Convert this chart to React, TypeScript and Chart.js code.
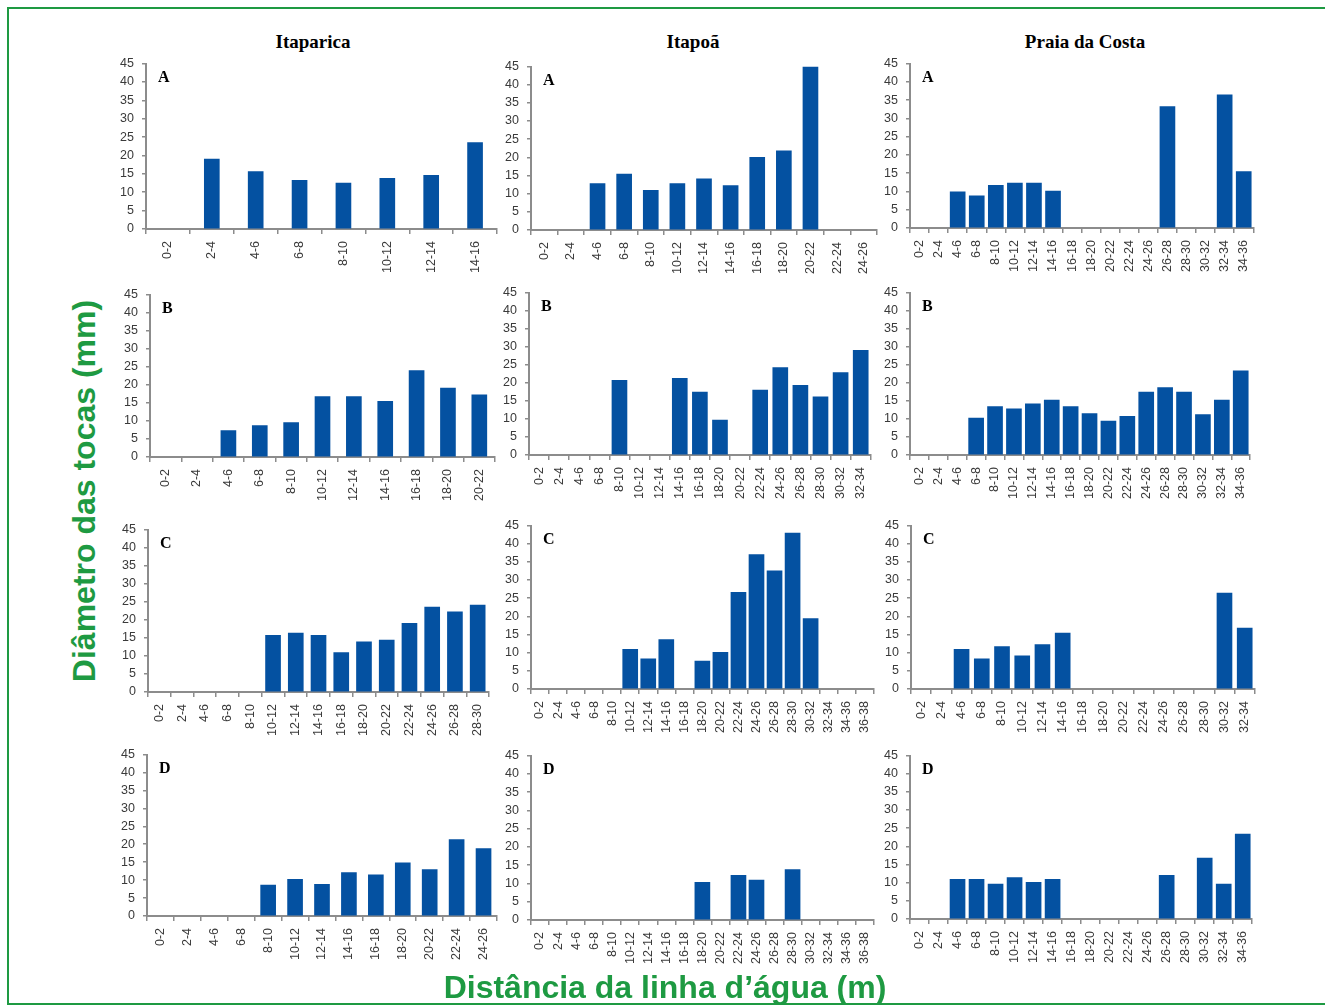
import React, { useEffect, useRef } from 'react';
import { Chart, registerables } from 'chart.js';

Chart.register(...registerables);

// Distance classes from the water line (m)
const DIST_CLASSES = [
  '0-2', '2-4', '4-6', '6-8', '8-10', '10-12', '12-14', '14-16', '16-18', '18-20',
  '20-22', '22-24', '24-26', '26-28', '28-30', '30-32', '32-34', '34-36', '36-38',
];

// Burrow diameter (mm) per distance class — Itaparica
const itaparicaA = [null, 19.0, 15.6, 13.2, 12.5, 13.8, 14.6, 23.5];
const itaparicaB = [null, null, 7.3, 8.7, 9.5, 16.7, 16.7, 15.4, 23.9, 19.1, 17.2];
const itaparicaC = [null, null, null, null, null, 15.7, 16.3, 15.7, 10.9, 13.9, 14.4, 19.0, 23.5, 22.2, 24.1];
const itaparicaD = [null, null, null, null, 8.6, 10.2, 8.8, 12.1, 11.5, 14.8, 12.9, 21.3, 18.8];

// Itapoã
const itapoaA = [null, null, 12.8, 15.4, 10.9, 12.8, 14.1, 12.2, 20.0, 21.8, 44.9, null, null];
const itapoaB = [null, null, null, null, 20.7, null, null, 21.2, 17.4, 9.7, null, 18.0, 24.2, 19.3, 16.1, 22.8, 29.0];
const itapoaC = [null, null, null, null, null, 10.9, 8.3, 13.6, null, 7.7, 10.1, 26.6, 37.0, 32.5, 42.9, 19.4, null, null, null];
const itapoaD = [null, null, null, null, null, null, null, null, null, 10.3, null, 12.2, 10.9, null, 13.8, null, null, null, null];

// Praia da Costa
const praiaA = [null, null, 9.9, 8.8, 11.7, 12.3, 12.3, 10.1, null, null, null, null, null, 33.2, null, null, 36.4, 15.4];
const praiaB = [null, null, null, 10.2, 13.4, 12.8, 14.2, 15.2, 13.4, 11.5, 9.4, 10.7, 17.4, 18.7, 17.4, 11.2, 15.2, 23.3];
const praiaC = [null, null, 10.9, 8.3, 11.7, 9.1, 12.2, 15.4, null, null, null, null, null, null, null, 26.4, 16.8];
const praiaD = [null, null, 10.9, 10.9, 9.6, 11.4, 10.1, 10.9, null, null, null, null, null, 12.0, null, 16.8, 9.6, 23.4];

const Y_TICK_MAX = 45;
const Y_TICK_STEP = 5;

const COLUMN_TITLES = ['Itaparica', 'Itapoã', 'Praia da Costa'];
const Y_TITLE = 'Diâmetro das tocas (mm)';
const X_TITLE = 'Distância da linha d’água (m)';

const BAR_COLOR = '#0451A1';
const AXIS_COLOR = '#8C8C8C';
const TICK_COLOR = '#3A3A3A';
const GREEN = '#1E9A42';

// Placement of each panel: y-axis x, pixel rows of 45 and 0, right end of x-axis
type PanelSpec = {
  letter: string;
  values: (number | null)[];
  axisX: number;
  yTop: number;
  yZero: number;
  right: number;
};

const PANELS: PanelSpec[] = [
  { letter: 'A', values: itaparicaA, axisX: 146, yTop: 58, yZero: 229, right: 497 },
  { letter: 'A', values: itapoaA, axisX: 531, yTop: 61, yZero: 230, right: 877 },
  { letter: 'A', values: praiaA, axisX: 910, yTop: 58, yZero: 228, right: 1256 },
  { letter: 'B', values: itaparicaB, axisX: 150, yTop: 289, yZero: 457, right: 495 },
  { letter: 'B', values: itapoaB, axisX: 529, yTop: 287, yZero: 455, right: 873 },
  { letter: 'B', values: praiaB, axisX: 910, yTop: 287, yZero: 455, right: 1253 },
  { letter: 'C', values: itaparicaC, axisX: 148, yTop: 524, yZero: 692, right: 490 },
  { letter: 'C', values: itapoaC, axisX: 531, yTop: 520, yZero: 689, right: 877 },
  { letter: 'C', values: praiaC, axisX: 911, yTop: 520, yZero: 689, right: 1257 },
  { letter: 'D', values: itaparicaD, axisX: 147, yTop: 749, yZero: 916, right: 497 },
  { letter: 'D', values: itapoaD, axisX: 531, yTop: 750, yZero: 920, right: 877 },
  { letter: 'D', values: praiaD, axisX: 910, yTop: 750, yZero: 919, right: 1255 },
];

const Y_AXIS_W = 45;
const X_AXIS_H = 48;
const PAD_TOP = 10;
const PAD_RIGHT = 10;

const Y_TICK_FONT = { family: '"Liberation Sans", Arial, sans-serif', size: 12.5 };
const X_TICK_FONT = { family: '"Liberation Sans", Arial, sans-serif', size: 12.5 };

function Panel({ spec }: { spec: PanelSpec }) {
  const ref = useRef<HTMLCanvasElement | null>(null);
  const width = Y_AXIS_W + (spec.right - spec.axisX) + PAD_RIGHT;
  const height = PAD_TOP + (spec.yZero - spec.yTop) + X_AXIS_H;

  useEffect(() => {
    if (!ref.current) return;
    const labels = DIST_CLASSES.slice(0, spec.values.length);
    const letterPlugin = {
      id: 'panelLetter',
      afterDraw(chart: any) {
        const { ctx, chartArea } = chart;
        ctx.save();
        ctx.font = 'bold 16px "Liberation Serif", "Times New Roman", serif';
        ctx.fillStyle = '#000';
        ctx.textBaseline = 'middle';
        ctx.textAlign = 'left';
        ctx.fillText(spec.letter, chartArea.left + 12, chartArea.top + 14);
        ctx.restore();
      },
    };
    const chart = new Chart(ref.current, {
      type: 'bar',
      data: {
        labels,
        datasets: [
          {
            data: spec.values,
            backgroundColor: BAR_COLOR,
            borderWidth: 0,
            barThickness: 15,
          },
        ],
      },
      options: {
        responsive: false,
        animation: false,
        events: [],
        layout: { padding: { top: PAD_TOP, right: PAD_RIGHT, left: 0, bottom: 0 } },
        plugins: {
          legend: { display: false },
          tooltip: { enabled: false },
          title: { display: false },
        },
        scales: {
          x: {
            offset: true,
            afterFit(scale: any) {
              scale.height = X_AXIS_H;
            },
            border: { display: true, color: AXIS_COLOR, width: 2 },
            grid: {
              display: true,
              offset: true,
              drawOnChartArea: false,
              drawTicks: true,
              tickLength: 5,
              color: AXIS_COLOR,
              lineWidth: 1.5,
            },
            ticks: {
              autoSkip: false,
              minRotation: 90,
              maxRotation: 90,
              padding: 7,
              color: TICK_COLOR,
              font: X_TICK_FONT,
            },
          },
          y: {
            min: 0,
            max: Y_TICK_MAX,
            afterFit(scale: any) {
              scale.width = Y_AXIS_W;
            },
            border: { display: true, color: AXIS_COLOR, width: 2 },
            grid: {
              display: true,
              drawOnChartArea: false,
              drawTicks: true,
              tickLength: 4,
              color: AXIS_COLOR,
              lineWidth: 1.5,
            },
            ticks: {
              stepSize: Y_TICK_STEP,
              autoSkip: false,
              padding: 8,
              color: TICK_COLOR,
              font: Y_TICK_FONT,
            },
          },
        },
      },
      plugins: [letterPlugin],
    });
    return () => chart.destroy();
  }, [spec]);

  return (
    <canvas
      ref={ref}
      width={width}
      height={height}
      style={{
        position: 'absolute',
        left: spec.axisX - Y_AXIS_W,
        top: spec.yTop - PAD_TOP,
        width,
        height,
      }}
    />
  );
}

const TITLE_CENTERS = [313, 693, 1085];

export default function App() {
  return (
    <div
      style={{
        position: 'absolute',
        left: 0,
        top: 0,
        width: 1325,
        height: 1005,
        background: '#fff',
        overflow: 'hidden',
      }}
    >
      <div
        style={{
          position: 'absolute',
          left: 7,
          top: 7,
          width: 1340,
          height: 994,
          border: `2px solid ${GREEN}`,
        }}
      />
      {COLUMN_TITLES.map((t, i) => (
        <div
          key={t}
          style={{
            position: 'absolute',
            left: TITLE_CENTERS[i],
            top: 42,
            transform: 'translate(-50%, -50%)',
            font: 'bold 19px "Liberation Serif", "Times New Roman", serif',
            color: '#000',
            whiteSpace: 'nowrap',
          }}
        >
          {t}
        </div>
      ))}
      {PANELS.map((p, i) => (
        <Panel key={i} spec={p} />
      ))}
      <div
        style={{
          position: 'absolute',
          left: 84,
          top: 491,
          transform: 'translate(-50%, -50%) rotate(-90deg)',
          font: 'bold 32px "Liberation Sans", Arial, sans-serif',
          color: GREEN,
          whiteSpace: 'nowrap',
        }}
      >
        {Y_TITLE}
      </div>
      <div
        style={{
          position: 'absolute',
          left: 665,
          top: 987,
          transform: 'translate(-50%, -50%)',
          font: 'bold 32px "Liberation Sans", Arial, sans-serif',
          color: GREEN,
          whiteSpace: 'nowrap',
        }}
      >
        {X_TITLE}
      </div>
    </div>
  );
}
